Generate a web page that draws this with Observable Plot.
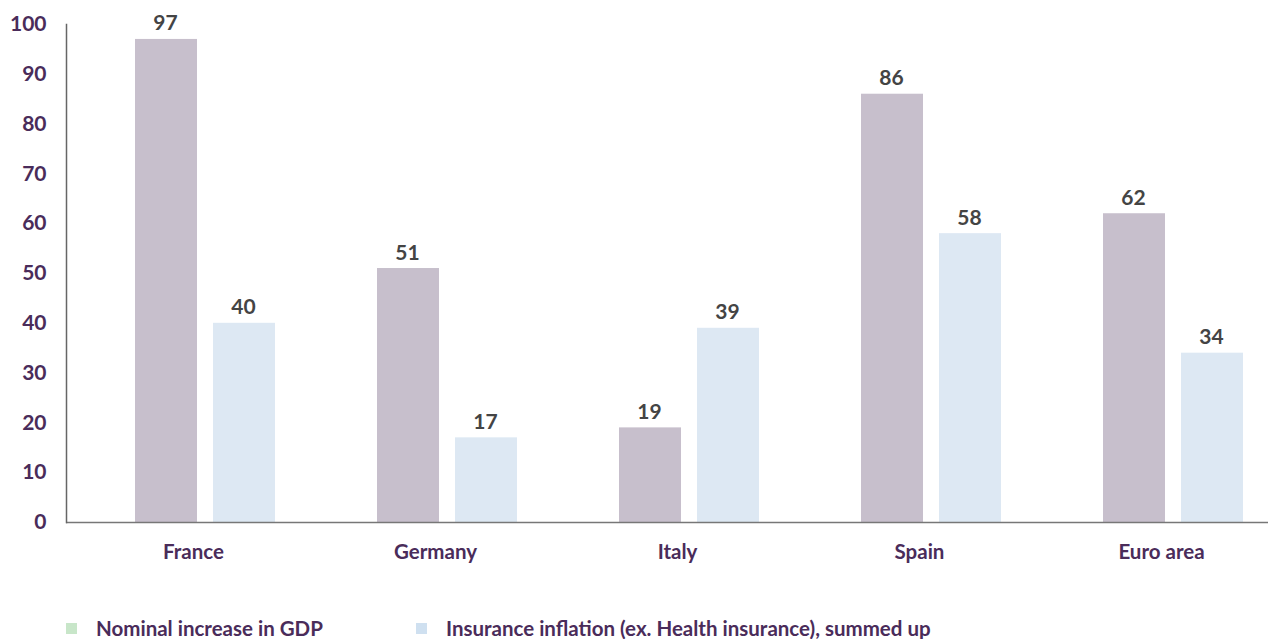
<!DOCTYPE html>
<html>
<head>
<meta charset="utf-8">
<script src="https://cdn.jsdelivr.net/npm/d3@7"></script>
<script src="https://cdn.jsdelivr.net/npm/@observablehq/plot@0.6"></script>
<style>
  html, body { margin: 0; padding: 0; background: #fff; }
  body { width: 1268px; height: 639px; overflow: hidden; font-family: Lato, "DejaVu Sans", sans-serif; }
  #legend { position: relative; height: 39px; font-size: 20.5px; font-weight: bold; color: #4a2c5a; }
  .item { position: absolute; top: 16px; display: flex; align-items: center; }
  .sw { width: 11px; height: 11px; margin-right: 19px; }
</style>
</head>
<body>
<div id="chart"></div>
<div id="legend"></div>
<script>
const countries = ["France", "Germany", "Italy", "Spain", "Euro area"];
const gdpIncrease = [97, 51, 19, 86, 62];
const insuranceInflation = [40, 17, 39, 58, 34];
const seriesNames = ["Nominal increase in GDP", "Insurance inflation (ex. Health insurance), summed up"];
const barColors = ["#c7bfcc", "#dde8f3"];
const legendColors = ["#c8e6c9", "#cfe0f0"];
const yTicks = [0, 10, 20, 30, 40, 50, 60, 70, 80, 90, 100];

const gdpData = countries.map((c, i) => ({country: c, value: gdpIncrease[i]}));
const insData = countries.map((c, i) => ({country: c, value: insuranceInflation[i]}));

const labelColor = "#4a2c5a";

const chart = Plot.plot({
  width: 1268,
  height: 600,
  marginLeft: 66,
  marginRight: 0,
  marginTop: 24,
  marginBottom: 78,
  style: {fontFamily: "Lato, 'DejaVu Sans', sans-serif", background: "#fff"},
  x: {domain: countries, range: [84, 1294], padding: 0},
  y: {domain: [0, 100]},
  marks: [
    Plot.barY(gdpData, {x: "country", y: "value", fill: barColors[0], insetLeft: 51, insetRight: 129}),
    Plot.barY(insData, {x: "country", y: "value", fill: barColors[1], insetLeft: 129, insetRight: 51}),
    Plot.text(gdpData, {x: "country", y: "value", text: d => String(d.value), dx: -40, dy: -9, lineAnchor: "bottom", fontSize: 21, fontWeight: "bold", fill: "#444"}),
    Plot.text(insData, {x: "country", y: "value", text: d => String(d.value), dx: 38, dy: -9, lineAnchor: "bottom", fontSize: 21, fontWeight: "bold", fill: "#444"}),
    Plot.ruleY([0], {stroke: "#777", strokeWidth: 1.5}),
    Plot.frame({anchor: "left", stroke: "#666", strokeWidth: 1.5}),
    Plot.axisY({ticks: yTicks, tickSize: 0, tickPadding: 20, fontSize: 21, fontWeight: "bold", color: labelColor, label: null}),
    Plot.axisX({tickSize: 0, tickPadding: 22, dx: -12, fontSize: 20.5, fontWeight: "bold", color: labelColor, label: null})
  ]
});
document.getElementById("chart").appendChild(chart);

const legend = document.getElementById("legend");
const lefts = [66, 416];
seriesNames.forEach((name, i) => {
  const item = document.createElement("div");
  item.className = "item";
  item.style.left = lefts[i] + "px";
  const sw = document.createElement("div");
  sw.className = "sw";
  sw.style.background = legendColors[i];
  const t = document.createElement("span");
  t.textContent = name;
  item.appendChild(sw);
  item.appendChild(t);
  legend.appendChild(item);
});
</script>
</body>
</html>
